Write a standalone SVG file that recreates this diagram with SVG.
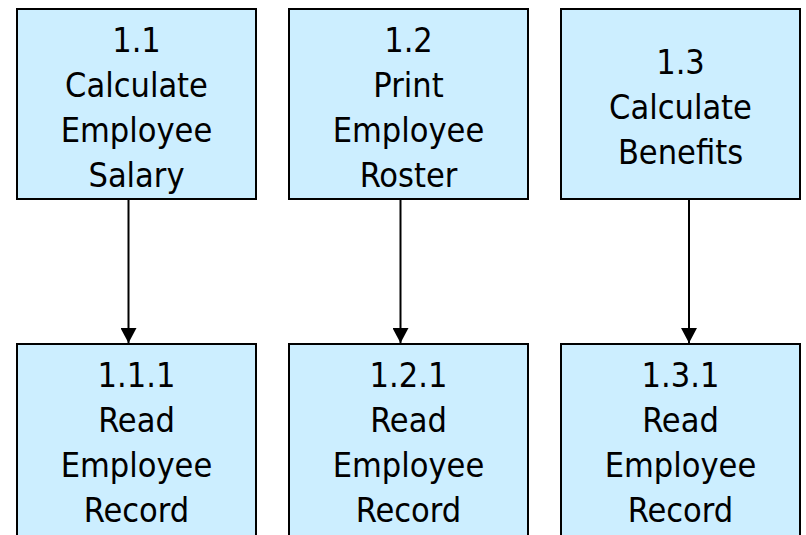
<svg xmlns="http://www.w3.org/2000/svg" width="806" height="535" viewBox="0 0 806 535">
  <style>
    .box { fill: #cceeff; stroke: #000; stroke-width: 2; }
    .lbl { font-family: "DejaVu Sans Condensed", "DejaVu Sans", sans-serif; font-stretch: condensed; font-size: 34px; fill: #000; text-anchor: middle; }
    .edge { stroke: #000; stroke-width: 2; fill: none; }
    .head { fill: #000; }
  </style>
  <defs>
    <marker id="arrow" markerWidth="16" markerHeight="16" refX="15" refY="8" orient="auto" markerUnits="userSpaceOnUse">
      <path class="head" d="M0,0 L15,8 L0,16 Z"/>
    </marker>
  </defs>

  <rect width="806" height="535" fill="#fff"/>

  <!-- top row -->
  <g id="n1_1">
    <rect class="box" x="17" y="9" width="239" height="190"/>
    <text class="lbl" x="136.5"><tspan x="136.5" y="52">1.1</tspan><tspan x="136.5" y="97">Calculate</tspan><tspan x="136.5" y="142">Employee</tspan><tspan x="136.5" y="187">Salary</tspan></text>
  </g>
  <g id="n1_2">
    <rect class="box" x="289" y="9" width="239" height="190"/>
    <text class="lbl" x="408.5"><tspan x="408.5" y="52">1.2</tspan><tspan x="408.5" y="97">Print</tspan><tspan x="408.5" y="142">Employee</tspan><tspan x="408.5" y="187">Roster</tspan></text>
  </g>
  <g id="n1_3">
    <rect class="box" x="561" y="9" width="239" height="190"/>
    <text class="lbl" x="680.5"><tspan x="680.5" y="74">1.3</tspan><tspan x="680.5" y="119">Calculate</tspan><tspan x="680.5" y="164">Benefits</tspan></text>
  </g>

  <!-- bottom row -->
  <g id="n1_1_1">
    <rect class="box" x="17" y="344" width="239" height="200"/>
    <text class="lbl" x="136.5"><tspan x="136.5" y="387">1.1.1</tspan><tspan x="136.5" y="432">Read</tspan><tspan x="136.5" y="477">Employee</tspan><tspan x="136.5" y="522">Record</tspan></text>
  </g>
  <g id="n1_2_1">
    <rect class="box" x="289" y="344" width="239" height="200"/>
    <text class="lbl" x="408.5"><tspan x="408.5" y="387">1.2.1</tspan><tspan x="408.5" y="432">Read</tspan><tspan x="408.5" y="477">Employee</tspan><tspan x="408.5" y="522">Record</tspan></text>
  </g>
  <g id="n1_3_1">
    <rect class="box" x="561" y="344" width="239" height="200"/>
    <text class="lbl" x="680.5"><tspan x="680.5" y="387">1.3.1</tspan><tspan x="680.5" y="432">Read</tspan><tspan x="680.5" y="477">Employee</tspan><tspan x="680.5" y="522">Record</tspan></text>
  </g>

  <!-- connectors -->
  <g id="connectors">
    <line class="edge" x1="128.5" y1="200" x2="128.5" y2="343" marker-end="url(#arrow)"/>
    <line class="edge" x1="400.5" y1="200" x2="400.5" y2="343" marker-end="url(#arrow)"/>
    <line class="edge" x1="689" y1="200" x2="689" y2="343" marker-end="url(#arrow)"/>
  </g>
</svg>
